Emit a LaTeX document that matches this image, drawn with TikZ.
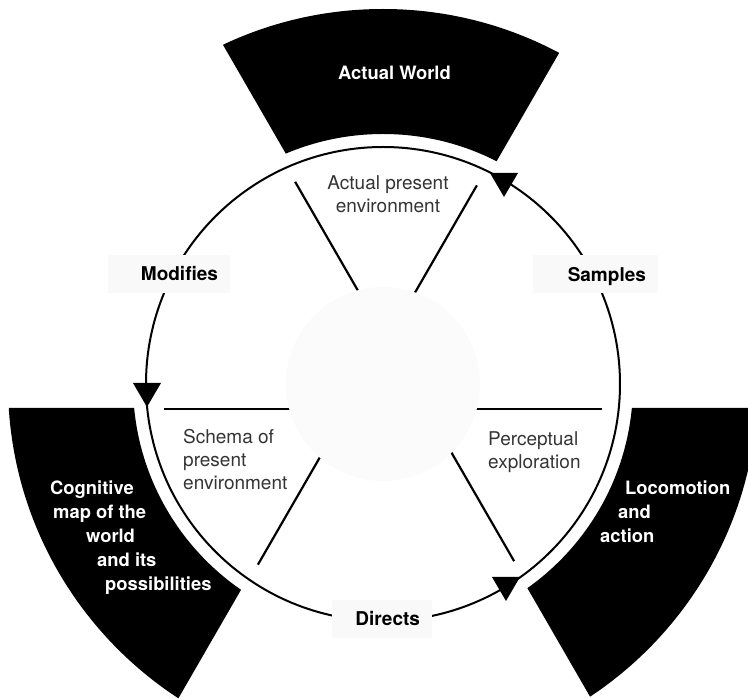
\documentclass[tikz,border=0pt]{standalone}
\usepackage{fontspec}
\setmainfont{TeX Gyre Heros}
\usepackage{tikz}
\usetikzlibrary{calc}
\definecolor{cycleText}{RGB}{52,52,52}
\definecolor{verbBack}{RGB}{249,249,249}
\definecolor{coreBack}{RGB}{251,251,251}

\begin{document}
\begin{tikzpicture}[x=1pt, y=1pt,
  sector/.style={fill=black, even odd rule},
  spoke/.style={line width=2.2pt},
  ring/.style={line width=2pt},
  verb/.style={fill=verbBack, font=\fontsize{19}{24}\selectfont\bfseries, align=right,
    inner xsep=12pt, inner ysep=12pt, text height=14pt, text depth=0pt},
  stage/.style={text=cycleText, font=\fontsize{19}{23}\selectfont, inner sep=0pt},
  realm/.style={text=white, font=\fontsize{18.4}{24}\selectfont\bfseries, inner sep=0pt},
  downtip/.pic={\fill (-14,0) -- (14,0) -- (0,-24) -- cycle;}]
\useasboundingbox (-383,-315) rectangle (365,384);

\begin{scope}
\clip (-383,-315) rectangle (365,384);
\begin{scope}
\clip (10.4,44) -- ++(120:600) -- ++(0:600) -- cycle;
\fill[sector] (0,0) circle (375) (0,0) circle (250);
\end{scope}
\begin{scope}
\clip (40.4,-24) -- ++(0:600) -- ++(240:600) -- cycle;
\fill[sector] (0,0) circle (375) (0,0) circle (250);
\end{scope}
\begin{scope}
\clip (-37,-24) -- ++(180:600) -- ++(300:600) -- cycle;
\fill[sector] (0,0) circle (375) (0,0) circle (250);
\end{scope}
\end{scope}

\draw[spoke] ($(270:25)+(180:219)$) -- ($(270:25)+(0:219)$);
\draw[spoke] ($(150:18)+(60:219)$) -- ($(150:18)+(240:219)$);
\draw[spoke] ($(30:25)+(120:219)$) -- ($(30:25)+(300:219)$);
\fill[coreBack] (0,0) circle (97);

\draw[ring] (0,0) circle (237);
\pic at (-236,1) {downtip};
\pic at (121,211) {downtip};
\pic at (123,-193) {downtip};

\node[verb, text width=98pt] (modifies) at (-214,110) {Modifies};
\node[verb, text width=101pt] (samples) at (212.5,109.5) {Samples};
\node[verb, text width=76pt] (directs) at (-1,-235) {Directs};

\node[realm] (world) at (11.5,311) {Actual World};
\node[realm, align=left, anchor=west] (map) at (-333,-154)
  {Cognitive\\\hspace*{3pt}map of the\\\hspace*{36pt}world\\\hspace*{47pt}and its\\\hspace*{55pt}possibilities};
\node[realm, align=left, anchor=west] (action) at (217,-127.5)
  {\hspace*{25pt}Locomotion\\\hspace*{18pt}and\\action};

\node[stage, align=center] (present) at (5,190) {Actual present\\environment};
\node[stage, align=left, anchor=west] (schema) at (-200,-75.5) {Schema of\\present\\environment};
\node[stage, align=left, anchor=west] (explore) at (105,-68) {Perceptual\\exploration};
\end{tikzpicture}
\end{document}
